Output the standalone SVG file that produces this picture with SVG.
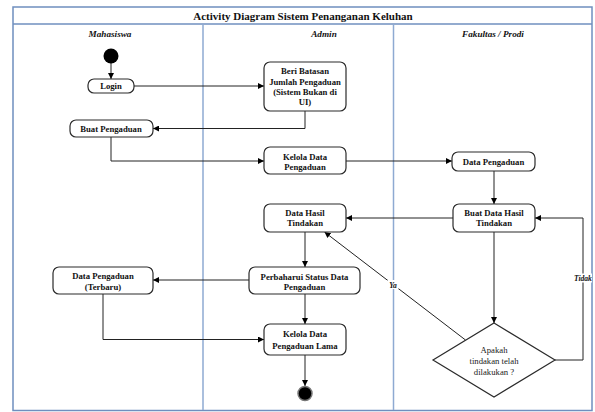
<svg xmlns="http://www.w3.org/2000/svg" width="595" height="412" viewBox="0 0 595 412">
<style>
.frame{fill:none;stroke:#6f8fbf;stroke-width:1.5}
.lane{stroke:#8eaad2;stroke-width:1.5}
.node{fill:#fff;stroke:#2b2b2b;stroke-width:1.2}
.t{font-family:"Liberation Serif","Times New Roman",serif;font-weight:bold;font-size:8.7px;fill:#111;text-anchor:middle}
.d{font-family:"Liberation Serif","Times New Roman",serif;font-size:8.7px;fill:#222;text-anchor:middle}
.h{font-family:"Liberation Serif","Times New Roman",serif;font-weight:bold;font-style:italic;font-size:9.2px;fill:#111;text-anchor:middle}
.lbl{font-family:"Liberation Serif","Times New Roman",serif;font-weight:bold;font-style:italic;font-size:7.6px;fill:#111;text-anchor:middle}
.c{fill:none;stroke:#222;stroke-width:1}
</style>
<defs>
<marker id="ah" viewBox="0 0 10 10" refX="10" refY="5" markerWidth="6" markerHeight="6" markerUnits="userSpaceOnUse" orient="auto">
<path d="M0,0 L10,5 L0,10 z" fill="#000"/>
</marker>
</defs>
<rect width="595" height="412" fill="#fff"/>
<g id="frame">
<rect class="frame" x="13" y="7" width="579" height="403.5"/>
<line class="frame" x1="13" y1="24" x2="592" y2="24"/>
<line class="lane" x1="203" y1="24" x2="203" y2="410"/>
<line class="lane" x1="393.5" y1="24" x2="393.5" y2="410"/>
<text x="303" y="19.5" font-family="Liberation Serif, Times New Roman, serif" font-weight="bold" font-size="11" text-anchor="middle" fill="#111">Activity Diagram Sistem Penanganan Keluhan</text>
<text class="h" x="110" y="37">Mahasiswa</text>
<text class="h" x="324" y="37">Admin</text>
<text class="h" x="493" y="37">Fakultas / Prodi</text>
</g>
<g id="connectors">
<line class="c" x1="111" y1="63" x2="111" y2="79" marker-end="url(#ah)"/>
<line class="c" x1="134" y1="86" x2="264" y2="86" marker-end="url(#ah)"/>
<polyline class="c" points="305,111 305,128.5 153,128.5" marker-end="url(#ah)"/>
<polyline class="c" points="111,137 111,161 264,161" marker-end="url(#ah)"/>
<line class="c" x1="346" y1="161" x2="452" y2="161" marker-end="url(#ah)"/>
<line class="c" x1="494" y1="171" x2="494" y2="204" marker-end="url(#ah)"/>
<line class="c" x1="453" y1="218" x2="346" y2="218" marker-end="url(#ah)"/>
<line class="c" x1="305" y1="232" x2="305" y2="267" marker-end="url(#ah)"/>
<line class="c" x1="249" y1="280" x2="153" y2="280" marker-end="url(#ah)"/>
<line class="c" x1="305" y1="294" x2="305" y2="324" marker-end="url(#ah)"/>
<polyline class="c" points="103,294 103,339.5 264,339.5" marker-end="url(#ah)"/>
<line class="c" x1="305" y1="355" x2="305" y2="386" marker-end="url(#ah)"/>
<line class="c" x1="494" y1="232" x2="494" y2="323" marker-end="url(#ah)"/>
<polyline class="c" points="555,360 583,360 583,218 535,218" marker-end="url(#ah)"/>
<line class="c" x1="465.5" y1="340" x2="324.5" y2="232" marker-end="url(#ah)"/>
<rect x="574" y="273.5" width="18" height="9" fill="#fff"/>
<text class="lbl" x="583" y="281">Tidak</text>
<rect x="387.5" y="280" width="11" height="9" fill="#fff"/>
<text class="lbl" x="393" y="287.5">Ya</text>
</g>
<g id="start"><circle cx="111" cy="56" r="7.5" fill="#000"/></g>
<g id="login"><rect class="node" x="88" y="79" width="46" height="14" rx="6"/><text class="t" x="111" y="89">Login</text></g>
<g id="beri-batasan"><rect class="node" x="264" y="62" width="82" height="49" rx="6"/>
<text class="t" x="305" y="73.5">Beri Batasan</text>
<text class="t" x="305" y="84.5">Jumlah Pengaduan</text>
<text class="t" x="305" y="95">(Sistem Bukan di</text>
<text class="t" x="305" y="105">UI)</text></g>
<g id="buat-pengaduan"><rect class="node" x="70" y="120" width="83" height="17" rx="6"/><text class="t" x="111" y="131.5">Buat Pengaduan</text></g>
<g id="kelola-data"><rect class="node" x="264" y="147" width="82" height="27" rx="6"/>
<text class="t" x="305" y="159.5">Kelola Data</text>
<text class="t" x="305" y="169.5">Pengaduan</text></g>
<g id="data-pengaduan"><rect class="node" x="452" y="152" width="83" height="19" rx="6"/><text class="t" x="493.5" y="164.5">Data Pengaduan</text></g>
<g id="buat-data-hasil"><rect class="node" x="453" y="204" width="82" height="28" rx="6"/>
<text class="t" x="494" y="216">Buat Data Hasil</text>
<text class="t" x="494" y="226">Tindakan</text></g>
<g id="data-hasil"><rect class="node" x="264" y="204" width="82" height="28" rx="6"/>
<text class="t" x="305" y="216">Data Hasil</text>
<text class="t" x="305" y="226">Tindakan</text></g>
<g id="perbaharui"><rect class="node" x="249" y="267" width="111" height="27" rx="6"/>
<text class="t" x="304.5" y="279.5">Perbaharui Status Data</text>
<text class="t" x="304.5" y="289.5">Pengaduan</text></g>
<g id="data-terbaru"><rect class="node" x="53" y="267" width="100" height="27" rx="6"/>
<text class="t" x="103" y="279">Data Pengaduan</text>
<text class="t" x="103" y="290">(Terbaru)</text></g>
<g id="kelola-lama"><rect class="node" x="264" y="324" width="82" height="31" rx="6"/>
<text class="t" x="305" y="337">Kelola Data</text>
<text class="t" x="305" y="348.5">Pengaduan Lama</text></g>
<g id="decision"><polygon class="node" points="494,323 555,360 494,397 433,360"/>
<text class="d" x="494" y="353">Apakah</text>
<text class="d" x="494" y="363.5">tindakan telah</text>
<text class="d" x="494" y="374.5">dilakukan ?</text></g>
<g id="end"><circle cx="305" cy="393.5" r="7" fill="#000" stroke="#777" stroke-width="1.5"/></g>
</svg>
